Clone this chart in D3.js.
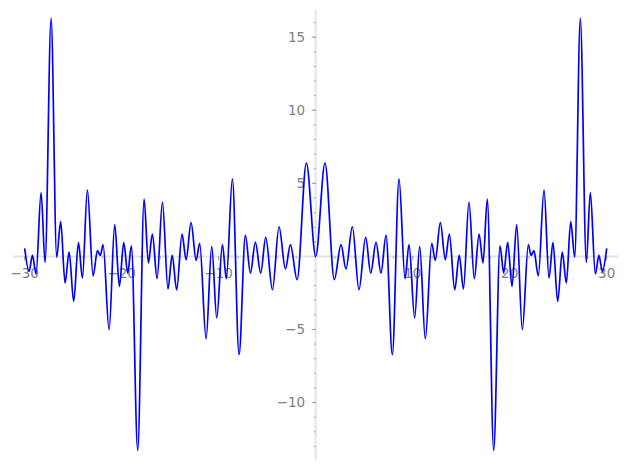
<!DOCTYPE html>
<html>
<head>
<meta charset="utf-8">
<script src="https://cdn.jsdelivr.net/npm/d3@7"></script>
<style>
  html, body { margin: 0; padding: 0; background: #ffffff; }
  svg { display: block; }
</style>
</head>
<body>
<svg id="chart" width="627" height="470"></svg>
<script>
// Sample points (local extrema)
const xValues = [
  -30.0, -29.55, -29.2, -28.83, -28.31, -27.9, -27.28, -26.7, -26.29, -25.84,
  -25.42, -24.95, -24.46, -24.05, -23.54, -22.95, -22.5, -22.2, -21.92, -21.3,
  -20.72, -20.24, -19.79, -19.38, -19.0, -18.35, -17.69, -17.25, -16.84, -16.35,
  -15.8, -15.23, -14.8, -14.33, -13.78, -13.36, -12.85, -12.33, -11.96, -11.3,
  -10.72, -10.2, -9.62, -9.21, -8.59, -7.9, -7.25, -6.73, -6.22, -5.67,
  -5.15, -4.46, -3.78, -3.12, -2.61, -1.92, -0.96, 0.0,
  0.96, 1.92, 2.61, 3.12, 3.78, 4.46, 5.15, 5.67, 6.22, 6.73,
  7.25, 7.9, 8.59, 9.21, 9.62, 10.2, 10.72, 11.3, 11.96, 12.33,
  12.85, 13.36, 13.78, 14.33, 14.8, 15.23, 15.8, 16.35, 16.84, 17.25,
  17.69, 18.35, 19.0, 19.38, 19.79, 20.24, 20.72, 21.3, 21.92, 22.2,
  22.5, 22.95, 23.54, 24.05, 24.46, 24.95, 25.42, 25.84, 26.29, 26.7,
  27.28, 27.9, 28.31, 28.83, 29.2, 29.55, 30.0
];
const yValues = [
  0.55, -1.03, 0.07, -1.20, 4.37, -0.41, 16.29, -0.05, 2.39, -1.82,
  0.30, -3.08, 0.96, -1.48, 4.56, -1.33, 0.39, 0.07, 0.80, -5.01,
  2.17, -2.05, 0.96, -1.14, 0.73, -13.28, 3.92, -0.45, 1.53, -1.52,
  3.72, -2.23, 0.07, -2.28, 1.53, -0.23, 2.32, -0.27, 0.89, -5.65,
  0.68, -4.21, 0.80, -1.52, 5.31, -6.72, 1.44, -1.14, 0.98, -1.14,
  1.30, -2.28, 2.03, -0.86, 0.80, -1.59, 6.38, 0.0,
  6.38, -1.59, 0.80, -0.86, 2.03, -2.28, 1.30, -1.14, 0.98, -1.14,
  1.44, -6.72, 5.31, -1.52, 0.80, -4.21, 0.68, -5.65, 0.89, -0.27,
  2.32, -0.23, 1.53, -2.28, 0.07, -2.23, 3.72, -1.52, 1.53, -0.45,
  3.92, -13.28, 0.73, -1.14, 0.96, -2.05, 2.17, -5.01, 0.80, 0.07,
  0.39, -1.33, 4.56, -1.48, 0.96, -3.08, 0.30, -1.82, 2.39, -0.05,
  16.29, -0.41, 4.37, -1.20, 0.07, -1.03, 0.55
];

const xMajorTicks = [-30, -20, -10, 10, 20, 30];
const xMinorTicks = [-30, -28, -26, -24, -22, -20, -18, -16, -14, -12, -10, -8, -6, -4, -2, 0,
                     2, 4, 6, 8, 10, 12, 14, 16, 18, 20, 22, 24, 26, 28, 30];
const yMajorTicks = [-10, -5, 5, 10, 15];
const yMinorTicks = [-13, -12, -11, -10, -9, -8, -7, -6, -5, -4, -3, -2, -1, 0,
                     1, 2, 3, 4, 5, 6, 7, 8, 9, 10, 11, 12, 13, 14, 15, 16];

const xDomain = [-31.2, 31.2];
const yDomain = [-13.93, 16.86];

const svg = d3.select("#chart");
const x = d3.scaleLinear().domain(xDomain).range([13.06, 618.34]);
const y = d3.scaleLinear().domain(yDomain).range([460, 10]);

const axisColor = "#e4e4e4";
const tickColor = "#8c8c8c";
const labelColor = "#808080";
const fontFamily = "'DejaVu Sans', sans-serif";
const fontSize = "13.5px";

// axis lines
svg.append("line")
  .attr("x1", x(xDomain[0])).attr("x2", x(xDomain[1]))
  .attr("y1", y(0)).attr("y2", y(0))
  .attr("stroke", axisColor).attr("stroke-width", 2);
svg.append("line")
  .attr("x1", x(0)).attr("x2", x(0))
  .attr("y1", y(yDomain[0])).attr("y2", y(yDomain[1]))
  .attr("stroke", axisColor).attr("stroke-width", 2);

// x ticks (pointing down)
const gx = svg.append("g").attr("transform", `translate(0,${y(0)})`);
gx.selectAll("line.minor").data(xMinorTicks).join("line")
  .attr("class", "minor")
  .attr("x1", d => x(d)).attr("x2", d => x(d))
  .attr("y1", 0).attr("y2", 2)
  .attr("stroke", tickColor).attr("stroke-width", 0.8);
gx.selectAll("line.major").data(xMajorTicks).join("line")
  .attr("class", "major")
  .attr("x1", d => x(d)).attr("x2", d => x(d))
  .attr("y1", 0).attr("y2", 4)
  .attr("stroke", tickColor).attr("stroke-width", 0.8);
gx.selectAll("text").data(xMajorTicks).join("text")
  .attr("x", d => x(d)).attr("y", 21.5)
  .attr("text-anchor", "middle")
  .attr("fill", labelColor)
  .style("font-family", fontFamily).style("font-size", fontSize)
  .text(d => d < 0 ? "\u2212" + Math.abs(d) : String(d));

// y ticks (pointing left)
const gy = svg.append("g").attr("transform", `translate(${x(0)},0)`);
gy.selectAll("line.minor").data(yMinorTicks).join("line")
  .attr("class", "minor")
  .attr("x1", 0).attr("x2", -2)
  .attr("y1", d => y(d)).attr("y2", d => y(d))
  .attr("stroke", tickColor).attr("stroke-width", 0.8);
gy.selectAll("line.major").data(yMajorTicks).join("line")
  .attr("class", "major")
  .attr("x1", 0).attr("x2", -4)
  .attr("y1", d => y(d)).attr("y2", d => y(d))
  .attr("stroke", tickColor).attr("stroke-width", 0.8);
gy.selectAll("text").data(yMajorTicks).join("text")
  .attr("x", -10.5).attr("y", d => y(d))
  .attr("dy", "0.36em")
  .attr("text-anchor", "end")
  .attr("fill", labelColor)
  .style("font-family", fontFamily).style("font-size", fontSize)
  .text(d => d < 0 ? "\u2212" + Math.abs(d) : String(d));

// curve
const points = xValues.map((v, i) => [v, yValues[i]]);
const line = d3.line()
  .x(d => x(d[0]))
  .y(d => y(d[1]))
  .curve(d3.curveMonotoneX);
svg.append("path")
  .datum(points)
  .attr("d", line)
  .attr("fill", "none")
  .attr("stroke", "#0000ff")
  .attr("stroke-width", 1.7)
  .attr("stroke-linejoin", "round");
</script>
</body>
</html>
